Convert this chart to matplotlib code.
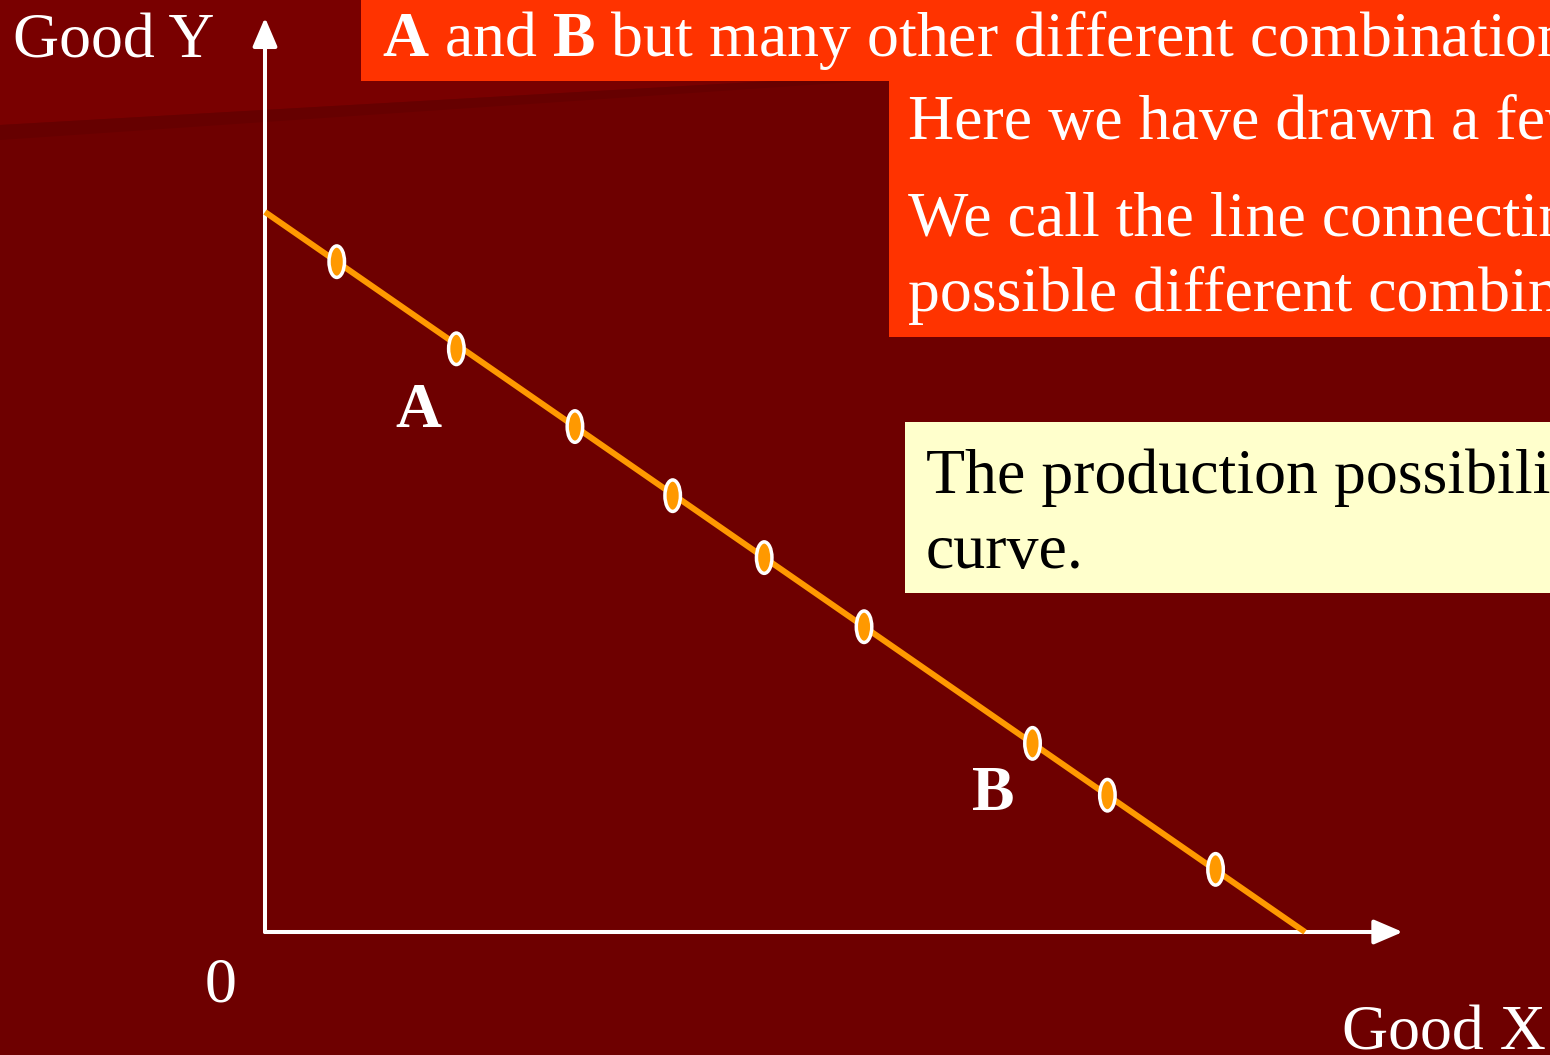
import matplotlib.pyplot as plt
from matplotlib.patches import Ellipse, Rectangle, Polygon

plt.rcParams['font.family'] = ['Liberation Serif', 'DejaVu Serif']
plt.rcParams['mathtext.fontset'] = 'custom'
plt.rcParams['mathtext.rm'] = 'Liberation Serif'
plt.rcParams['mathtext.bf'] = 'Liberation Serif:bold'

# production possibility frontier (straight line between the intercepts)
frontier_x = [0, 10]
frontier_y = [10, 0]

# a few of the possible combinations of the two goods
combo_x = [0.69, 1.84, 2.98, 3.92, 4.80, 5.76, 7.38, 8.10, 9.14]
combo_y = [9.31, 8.10, 7.02, 6.06, 5.20, 4.24, 2.62, 1.90, 0.87]

# labelled combinations
point_labels = ['A', 'B']
label_x = [1.48, 7.0]
label_y = [7.01, 1.69]

W, H = 1550, 1055
BG = '#6E0000'
ORANGE = '#FF9900'
RED_BOX = '#FF3300'
YELLOW_BOX = '#FFFFCC'
FS = 46

fig = plt.figure(figsize=(W / 100, H / 100), dpi=100, facecolor=BG)

# pixel-space layer for the slide background and text boxes
px = fig.add_axes([0, 0, 1, 1])
px.set_xlim(0, W)
px.set_ylim(H, 0)
px.axis('off')

# lighter top strip with a faint darker streak under it
px.add_patch(Polygon([(0, 0), (W, 0), (W, 40), (1000, 68), (0, 125)],
                     closed=True, color='#790000', lw=0, zorder=0))
px.add_patch(Polygon([(0, 125), (1000, 68), (1000, 72), (0, 140)],
                     closed=True, color='#660000', lw=0, zorder=0))

px.add_patch(Rectangle((361, 0), W - 361, 81, color=RED_BOX, lw=0, zorder=1))
px.add_patch(Rectangle((889, 81), W - 889, 256, color=RED_BOX, lw=0, zorder=1))
px.add_patch(Rectangle((905, 422), W - 905, 171, color=YELLOW_BOX, lw=0, zorder=1))

px.text(382, 56, r'$\mathbf{A}$ and $\mathbf{B}$ but many other different combinations are possible.',
        color='white', fontsize=FS, va='baseline', zorder=2)
px.text(908, 139, 'Here we have drawn a few of them.',
        color='white', fontsize=FS, va='baseline', zorder=2)
px.text(908, 236, 'We call the line connecting all the',
        color='white', fontsize=FS, va='baseline', zorder=2)
px.text(908, 311, 'possible different combinations...',
        color='white', fontsize=FS, va='baseline', zorder=2)
px.text(926, 493, 'The production possibility',
        color='black', fontsize=FS, va='baseline', zorder=2)
px.text(926, 568, 'curve.',
        color='black', fontsize=FS, va='baseline', zorder=2)

px.text(13, 58, 'Good Y', color='white', fontsize=FS, va='baseline')
px.text(1342, 1050, 'Good X', color='white', fontsize=FS, va='baseline')

# chart layer: origin at (265, 932) px, 104 px per unit of X, 72 px per unit of Y
ox, oy, sx, sy = 265, 932, 104, 72
ax = fig.add_axes([0, 0, 1, 1])
ax.set_xlim(-ox / sx, (W - ox) / sx)
ax.set_ylim(-(H - oy) / sy, oy / sy)
ax.axis('off')
ax.patch.set_alpha(0)

arrow = dict(arrowstyle='-|>,head_length=0.7,head_width=0.3', color='white',
             lw=2.9, mutation_scale=25, shrinkA=0, shrinkB=0)
ax.annotate('', xy=(0, 12.7), xytext=(0, 0), arrowprops=arrow)
ax.annotate('', xy=(10.94, 0), xytext=(0, 0), arrowprops=arrow)

ax.plot(frontier_x, frontier_y, color=ORANGE, lw=4.3, solid_capstyle='butt', zorder=3)

for x, y in zip(combo_x, combo_y):
    ax.add_patch(Ellipse((x, y), 15.5 / sx, 31.5 / sy, facecolor=ORANGE,
                         edgecolor='white', lw=2.5, zorder=4))

for lab, x, y in zip(point_labels, label_x, label_y):
    ax.text(x, y, lab, color='white', fontsize=FS, fontweight='bold',
            ha='center', va='baseline')

ax.text(-0.43, -0.97, '0', color='white', fontsize=FS, ha='center', va='baseline')

fig.savefig('out.png', dpi=100, facecolor=BG)
